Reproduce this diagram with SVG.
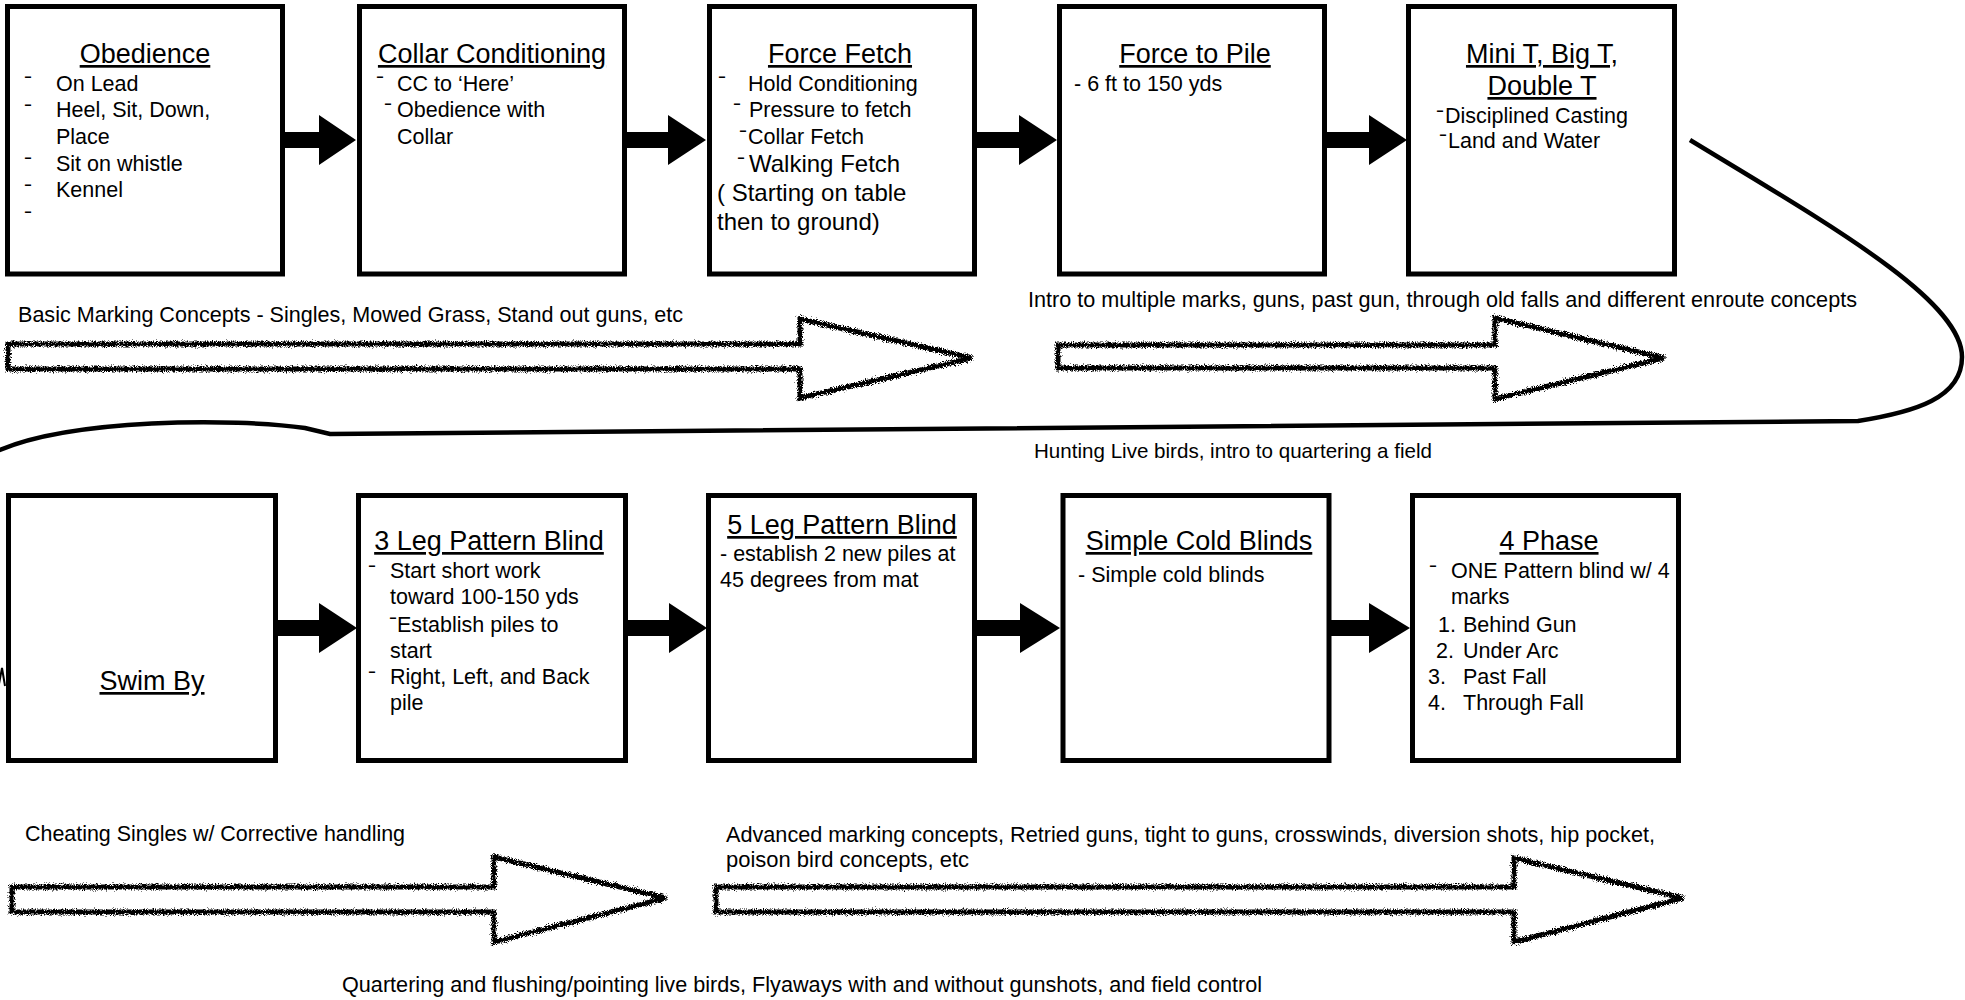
<svg xmlns="http://www.w3.org/2000/svg" width="1965" height="1000" viewBox="0 0 1965 1000">
<defs>
<style>
.box{fill:#fff;stroke:#000;stroke-width:5}
.t{font-family:"Liberation Sans",Arial,Helvetica,sans-serif;fill:#000}
.ttl{font-size:27px;text-anchor:middle;text-decoration:underline}
.b{font-size:21.5px}
.d{font-size:13px;font-weight:bold}
.big{font-size:24px}
.lbl{font-size:21.5px}
.blk{fill:#000;stroke:none}
.hol{fill:#fff;stroke:#000;stroke-width:5;stroke-linejoin:miter;filter:url(#rough)}
.curve{fill:none;stroke:#000;stroke-width:4.5;stroke-linecap:butt}
</style>
<filter id="rough" x="-5%" y="-20%" width="110%" height="140%">
<feTurbulence type="fractalNoise" baseFrequency="1.1" numOctaves="2" seed="5" result="n"/>
<feDisplacementMap in="SourceGraphic" in2="n" scale="7" xChannelSelector="R" yChannelSelector="G"/>
</filter>
</defs>
<rect width="1965" height="1000" fill="#fff"/>

<g id="bands">
<polygon class="hol" points="8,344 800,344 800,319 972,358 800,398 800,369 8,369"/>
<polygon class="hol" points="1058,345 1495,345 1495,318 1664,358 1495,399 1495,368 1058,368"/>
<polygon class="hol" points="12,887 494,887 494,857 666,898 494,942 494,912 12,912"/>
<polygon class="hol" points="716,887 1514,887 1514,858 1683,898 1514,942 1514,912 716,912"/>
</g>

<g id="connectors">
<polygon class="blk" points="283,132 319,132 319,115 356,140 319,165 319,148 283,148"/>
<polygon class="blk" points="627,132 668,132 668,115 706,140 668,165 668,148 627,148"/>
<polygon class="blk" points="977,132 1019,132 1019,115 1057,140 1019,165 1019,148 977,148"/>
<polygon class="blk" points="1327,132 1369,132 1369,115 1407,140 1369,165 1369,148 1327,148"/>
<polygon class="blk" points="278,620 319,620 319,603 357,628 319,653 319,636 278,636"/>
<polygon class="blk" points="628,620 669,620 669,603 707,628 669,653 669,636 628,636"/>
<polygon class="blk" points="977,620 1020,620 1020,603 1060,628 1020,653 1020,636 977,636"/>
<polygon class="blk" points="1331,620 1369,620 1369,603 1410,628 1369,653 1369,636 1331,636"/>
<path class="curve" d="M1690,140 C1830,225 1962,300 1962,357 C1962,398 1915,412 1858,421 L330,434 L305,428 C235,418 70,418 -5,452"/>
<polyline fill="none" stroke="#000" stroke-width="2" points="-1,684 2,668 5,686"/>
</g>

<g id="n-obedience">
<rect class="box" x="7.5" y="6.5" width="275" height="267.5"/>
<text class="t ttl" x="145" y="63">Obedience</text>
<text class="t d" x="24" y="81.4" textLength="8" lengthAdjust="spacingAndGlyphs">-</text>
<text class="t d" x="24" y="109.4" textLength="8" lengthAdjust="spacingAndGlyphs">-</text>
<text class="t d" x="24" y="162.4" textLength="8" lengthAdjust="spacingAndGlyphs">-</text>
<text class="t d" x="24" y="189.4" textLength="8" lengthAdjust="spacingAndGlyphs">-</text>
<text class="t d" x="24" y="216.4" textLength="8" lengthAdjust="spacingAndGlyphs">-</text>
<text class="t b" x="56" y="90.7">On Lead</text>
<text class="t b" x="56" y="117.3">Heel, Sit, Down,</text>
<text class="t b" x="56" y="144">Place</text>
<text class="t b" x="56" y="170.7">Sit on whistle</text>
<text class="t b" x="56" y="197.3">Kennel</text>
</g>

<g id="n-collar">
<rect class="box" x="359.5" y="6.5" width="265" height="267.5"/>
<text class="t ttl" x="492" y="63">Collar Conditioning</text>
<text class="t d" x="376" y="81.4" textLength="8" lengthAdjust="spacingAndGlyphs">-</text>
<text class="t d" x="384" y="108.4" textLength="8" lengthAdjust="spacingAndGlyphs">-</text>
<text class="t b" x="397" y="90.7">CC to ‘Here’</text>
<text class="t b" x="397" y="117.3">Obedience with</text>
<text class="t b" x="397" y="144">Collar</text>
</g>

<g id="n-forcefetch">
<rect class="box" x="709.5" y="6.5" width="265" height="267.5"/>
<text class="t ttl" x="840" y="63">Force Fetch</text>
<text class="t d" x="718" y="81.4" textLength="8" lengthAdjust="spacingAndGlyphs">-</text>
<text class="t d" x="733" y="108.4" textLength="8" lengthAdjust="spacingAndGlyphs">-</text>
<text class="t d" x="739" y="135.4" textLength="8" lengthAdjust="spacingAndGlyphs">-</text>
<text class="t d" x="737" y="162.4" textLength="8" lengthAdjust="spacingAndGlyphs">-</text>
<text class="t b" x="748" y="90.7">Hold Conditioning</text>
<text class="t b" x="749" y="117.3">Pressure to fetch</text>
<text class="t b" x="748" y="144">Collar Fetch</text>
<text class="t big" x="749" y="172">Walking Fetch</text>
<text class="t big" x="717" y="201">( Starting on table</text>
<text class="t big" x="717" y="230">then to ground)</text>
</g>

<g id="n-forcetopile">
<rect class="box" x="1059.5" y="6.5" width="265" height="267.5"/>
<text class="t ttl" x="1195" y="63">Force to Pile</text>
<text class="t b" x="1074" y="90.7">- 6 ft to 150 yds</text>
</g>

<g id="n-minit">
<rect class="box" x="1408.5" y="6.5" width="266" height="267.5"/>
<text class="t ttl" x="1542" y="63">Mini T, Big T,</text>
<text class="t ttl" x="1542" y="95">Double T</text>
<text class="t d" x="1436" y="115.4" textLength="8" lengthAdjust="spacingAndGlyphs">-</text>
<text class="t d" x="1439" y="139.4" textLength="8" lengthAdjust="spacingAndGlyphs">-</text>
<text class="t b" x="1445" y="122.7">Disciplined Casting</text>
<text class="t b" x="1448" y="148">Land and Water</text>
</g>

<g id="n-swimby">
<rect class="box" x="8.5" y="495.5" width="267" height="265"/>
<text class="t ttl" x="152" y="690">Swim By</text>
</g>

<g id="n-3leg">
<rect class="box" x="358.5" y="495.5" width="267" height="265"/>
<text class="t ttl" x="489" y="550">3 Leg Pattern Blind</text>
<text class="t d" x="368" y="570.4" textLength="8" lengthAdjust="spacingAndGlyphs">-</text>
<text class="t d" x="389" y="622.4" textLength="8" lengthAdjust="spacingAndGlyphs">-</text>
<text class="t d" x="368" y="676.4" textLength="8" lengthAdjust="spacingAndGlyphs">-</text>
<text class="t b" x="390" y="578">Start short work</text>
<text class="t b" x="390" y="604">toward 100-150 yds</text>
<text class="t b" x="397" y="632">Establish piles to</text>
<text class="t b" x="390" y="658">start</text>
<text class="t b" x="390" y="684">Right, Left, and Back</text>
<text class="t b" x="390" y="710">pile</text>
</g>

<g id="n-5leg">
<rect class="box" x="708.5" y="495.5" width="266" height="265"/>
<text class="t ttl" x="842" y="534">5 Leg Pattern Blind</text>
<text class="t b" x="720" y="561">- establish 2 new piles at</text>
<text class="t b" x="720" y="587">45 degrees from mat</text>
</g>

<g id="n-coldblinds">
<rect class="box" x="1063" y="495.5" width="266" height="265"/>
<text class="t ttl" x="1199" y="550">Simple Cold Blinds</text>
<text class="t b" x="1078" y="582">- Simple cold blinds</text>
</g>

<g id="n-4phase">
<rect class="box" x="1412.5" y="495.5" width="266" height="265"/>
<text class="t ttl" x="1549" y="550">4 Phase</text>
<text class="t d" x="1429" y="570.4" textLength="8" lengthAdjust="spacingAndGlyphs">-</text>
<text class="t b" x="1451" y="578">ONE Pattern blind w/ 4</text>
<text class="t b" x="1451" y="604">marks</text>
<text class="t b" x="1438" y="632">1.</text>
<text class="t b" x="1463" y="632">Behind Gun</text>
<text class="t b" x="1436" y="658">2.</text>
<text class="t b" x="1463" y="658">Under Arc</text>
<text class="t b" x="1428" y="684">3.</text>
<text class="t b" x="1463" y="684">Past Fall</text>
<text class="t b" x="1428" y="710">4.</text>
<text class="t b" x="1463" y="710">Through Fall</text>
</g>

<g id="labels">
<text class="t lbl" x="18" y="322" textLength="665" lengthAdjust="spacingAndGlyphs">Basic Marking Concepts - Singles, Mowed Grass, Stand out guns, etc</text>
<text class="t lbl" x="1028" y="307" textLength="829" lengthAdjust="spacingAndGlyphs">Intro to multiple marks, guns, past gun, through old falls and different enroute concepts</text>
<text class="t lbl" x="1034" y="458" style="font-size:20.7px" textLength="398" lengthAdjust="spacingAndGlyphs">Hunting Live birds, intro to quartering a field</text>
<text class="t lbl" x="25" y="841" textLength="380" lengthAdjust="spacingAndGlyphs">Cheating Singles w/ Corrective handling</text>
<text class="t lbl" x="726" y="842" textLength="929" lengthAdjust="spacingAndGlyphs">Advanced marking concepts, Retried guns, tight to guns, crosswinds, diversion shots, hip pocket,</text>
<text class="t lbl" x="726" y="867" textLength="243" lengthAdjust="spacingAndGlyphs">poison bird concepts, etc</text>
<text class="t lbl" x="342" y="992" textLength="920" lengthAdjust="spacingAndGlyphs">Quartering and flushing/pointing live birds, Flyaways with and without gunshots, and field control</text>
</g>
</svg>
